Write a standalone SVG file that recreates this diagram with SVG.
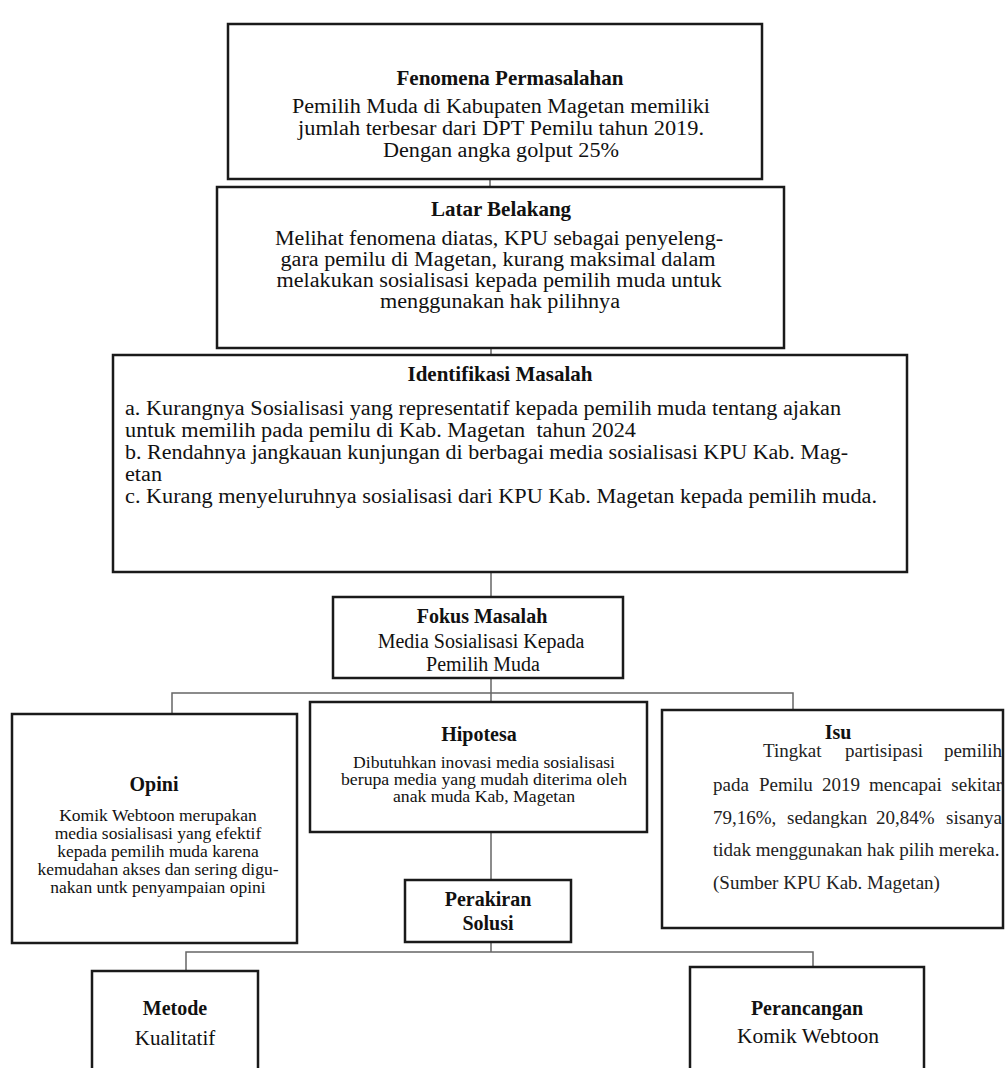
<svg xmlns="http://www.w3.org/2000/svg" width="1005" height="1068" viewBox="0 0 1005 1068">
<style>
.box{fill:#fff;stroke:#1a1a1a;stroke-width:2.5}
.con{fill:none;stroke:#666;stroke-width:1.5}
text{font-family:"Liberation Serif","Times New Roman",serif;fill:#111}
.t{font-weight:bold;text-anchor:middle}
.c{text-anchor:middle}
.big{font-size:20px}
.t21{font-size:21px}
.t20{font-size:20px}
.m20{font-size:20px}
.s17{font-size:17.5px}
.s16{font-size:16px}
.isu{font-size:19px;fill:#222}
</style>
<rect width="1005" height="1068" fill="#fff"/>
<g id="connectors">
<path class="con" d="M490 179V187"/>
<path class="con" d="M491 348V355"/>
<path class="con" d="M491 572V597"/>
<path class="con" d="M491 678V702"/>
<path class="con" d="M172 714V693H793V710"/>
<path class="con" d="M491 832V880"/>
<path class="con" d="M491 942V952"/>
<path class="con" d="M186 971V952H813V967"/>
</g>
<g id="fenomena">
<rect class="box" x="228" y="24" width="534" height="155"/>
<text class="t t21" x="510" y="85">Fenomena Permasalahan</text>
<text class="c big" x="501" y="113" textLength="418" lengthAdjust="spacingAndGlyphs">Pemilih Muda di Kabupaten Magetan memiliki</text>
<text class="c big" x="501" y="135" textLength="406" lengthAdjust="spacingAndGlyphs">jumlah terbesar dari DPT Pemilu tahun 2019.</text>
<text class="c big" x="501" y="157" textLength="236" lengthAdjust="spacingAndGlyphs">Dengan angka golput 25%</text>
</g>
<g id="latar">
<rect class="box" x="217" y="187" width="567" height="161"/>
<text class="t t21" x="501" y="216">Latar Belakang</text>
<text class="c big" x="499" y="245" textLength="448" lengthAdjust="spacingAndGlyphs">Melihat fenomena diatas, KPU sebagai penyeleng-</text>
<text class="c big" x="498" y="266" textLength="435" lengthAdjust="spacingAndGlyphs">gara pemilu di Magetan, kurang maksimal dalam</text>
<text class="c big" x="499" y="287" textLength="445" lengthAdjust="spacingAndGlyphs">melakukan sosialisasi kepada pemilih muda untuk</text>
<text class="c big" x="500" y="308" textLength="240" lengthAdjust="spacingAndGlyphs">menggunakan hak pilihnya</text>
</g>
<g id="identifikasi">
<rect class="box" x="113" y="355" width="794" height="217"/>
<text class="t t21" x="500" y="381">Identifikasi Masalah</text>
<text class="big" x="125" y="415" textLength="716" lengthAdjust="spacingAndGlyphs">a. Kurangnya Sosialisasi yang representatif kepada pemilih muda tentang ajakan</text>
<text class="big" x="125" y="437" xml:space="preserve" textLength="511" lengthAdjust="spacingAndGlyphs">untuk memilih pada pemilu di Kab. Magetan  tahun 2024</text>
<text class="big" x="125" y="459" textLength="723" lengthAdjust="spacingAndGlyphs">b. Rendahnya jangkauan kunjungan di berbagai media sosialisasi KPU Kab. Mag-</text>
<text class="big" x="125" y="481" textLength="37" lengthAdjust="spacingAndGlyphs">etan</text>
<text class="big" x="125" y="503" textLength="752" lengthAdjust="spacingAndGlyphs">c. Kurang menyeluruhnya sosialisasi dari KPU Kab. Magetan kepada pemilih muda.</text>
</g>
<g id="fokus">
<rect class="box" x="333" y="597" width="290" height="81"/>
<text class="t t20" x="482" y="623">Fokus Masalah</text>
<text class="c m20" x="481" y="648">Media Sosialisasi Kepada</text>
<text class="c m20" x="483" y="671">Pemilih Muda</text>
</g>
<g id="opini">
<rect class="box" x="12" y="714" width="285" height="229"/>
<text class="t t20" x="154" y="791">Opini</text>
<text class="c s17" x="158" y="821">Komik Webtoon merupakan</text>
<text class="c s17" x="158" y="839">media sosialisasi yang efektif</text>
<text class="c s17" x="158" y="857">kepada pemilih muda karena</text>
<text class="c s17" x="158" y="875">kemudahan akses dan sering digu-</text>
<text class="c s17" x="158" y="893">nakan untk penyampaian opini</text>
</g>
<g id="hipotesa">
<rect class="box" x="310" y="702" width="337" height="130"/>
<text class="t t20" x="479" y="741">Hipotesa</text>
<text class="c s16" x="484" y="768" textLength="262" lengthAdjust="spacingAndGlyphs">Dibutuhkan inovasi media sosialisasi</text>
<text class="c s16" x="484" y="785" textLength="286" lengthAdjust="spacingAndGlyphs">berupa media yang mudah diterima oleh</text>
<text class="c s16" x="484" y="802" textLength="182" lengthAdjust="spacingAndGlyphs">anak muda Kab, Magetan</text>
</g>
<g id="isu">
<rect class="box" x="662" y="710" width="341" height="218"/>
<text class="t t20" x="838" y="739">Isu</text>
<text class="isu" y="757"><tspan x="763">Tingkat</tspan><tspan x="845">partisipasi</tspan><tspan x="1002" text-anchor="end">pemilih</tspan></text>
<text class="isu" y="791"><tspan x="713">pada</tspan><tspan x="759">Pemilu</tspan><tspan x="822">2019</tspan><tspan x="869">mencapai</tspan><tspan x="1002" text-anchor="end">sekitar</tspan></text>
<text class="isu" y="824"><tspan x="713">79,16%,</tspan><tspan x="787">sedangkan</tspan><tspan x="876">20,84%</tspan><tspan x="1002" text-anchor="end">sisanya</tspan></text>
<text class="isu" x="713" y="856">tidak menggunakan hak pilih mereka.</text>
<text class="isu" x="713" y="889">(Sumber KPU Kab. Magetan)</text>
</g>
<g id="perakiran">
<rect class="box" x="405" y="880" width="166" height="62"/>
<text class="t t20" x="488" y="906">Perakiran</text>
<text class="t t20" x="488" y="930">Solusi</text>
</g>
<g id="metode">
<rect class="box" x="92" y="971" width="166" height="110"/>
<text class="t t20" x="175" y="1015">Metode</text>
<text class="c" style="font-size:21px" x="175" y="1045">Kualitatif</text>
</g>
<g id="perancangan">
<rect class="box" x="690" y="967" width="234" height="115"/>
<text class="t t20" x="807" y="1015">Perancangan</text>
<text class="c" style="font-size:21.5px" x="808" y="1043">Komik Webtoon</text>
</g>
</svg>
